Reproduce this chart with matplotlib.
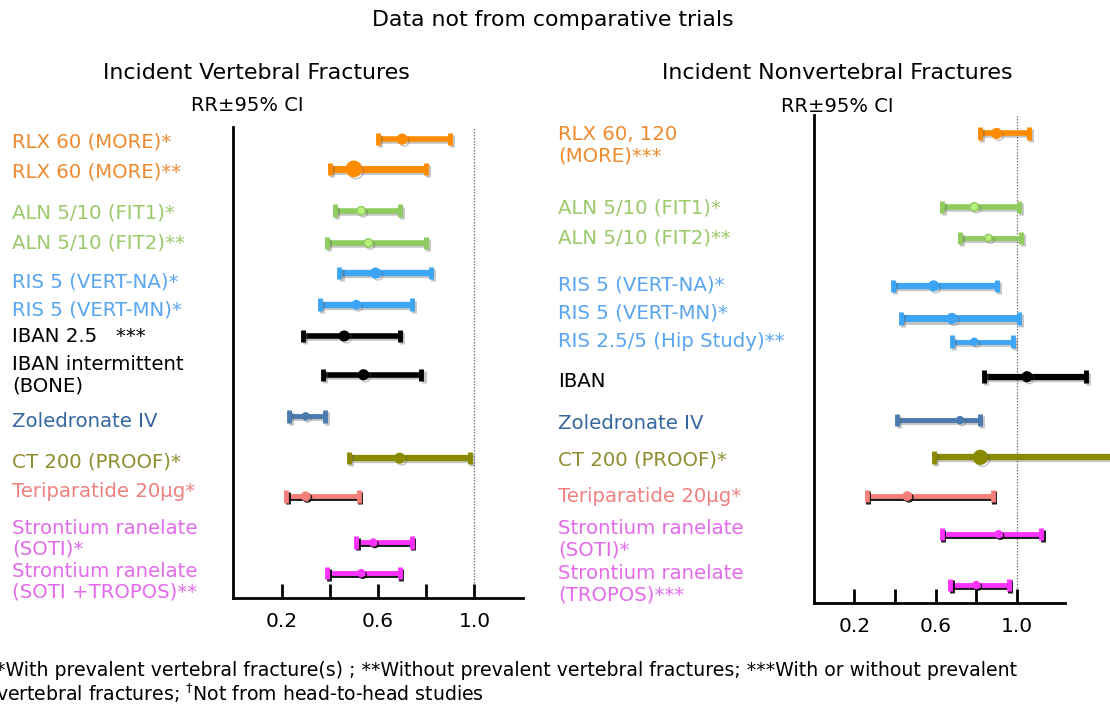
import matplotlib
matplotlib.use("Agg")
from matplotlib import pyplot as plt
import matplotlib.patheffects as pe

# ---- data: relative risk with 95% CI ----
vert_labels = ["RLX 60 (MORE)*", "RLX 60 (MORE)**", "ALN 5/10 (FIT1)*", "ALN 5/10 (FIT2)**",
               "RIS 5 (VERT-NA)*", "RIS 5 (VERT-MN)*", "IBAN 2.5   ***", "IBAN intermittent\n(BONE)",
               "Zoledronate IV", "CT 200 (PROOF)*", "Teriparatide 20µg*",
               "Strontium ranelate\n(SOTI)*", "Strontium ranelate\n(SOTI +TROPOS)**"]
vert_rr = [0.70, 0.50, 0.53, 0.56, 0.59, 0.51, 0.46, 0.54, 0.30, 0.69, 0.30, 0.58, 0.53]
vert_lo = [0.60, 0.40, 0.42, 0.39, 0.44, 0.36, 0.29, 0.37, 0.23, 0.48, 0.22, 0.51, 0.39]
vert_hi = [0.90, 0.80, 0.69, 0.80, 0.82, 0.74, 0.69, 0.78, 0.38, 0.98, 0.52, 0.74, 0.69]

nonvert_labels = ["RLX 60, 120\n(MORE)***", "ALN 5/10 (FIT1)*", "ALN 5/10 (FIT2)**",
                  "RIS 5 (VERT-NA)*", "RIS 5 (VERT-MN)*", "RIS 2.5/5 (Hip Study)**", "IBAN",
                  "Zoledronate IV", "CT 200 (PROOF)*", "Teriparatide 20µg*",
                  "Strontium ranelate\n(SOTI)*", "Strontium ranelate\n(TROPOS)***"]
nonvert_rr = [0.90, 0.79, 0.86, 0.59, 0.68, 0.79, 1.05, 0.72, 0.82, 0.46, 0.91, 0.80]
nonvert_lo = [0.82, 0.63, 0.72, 0.39, 0.43, 0.68, 0.84, 0.41, 0.59, 0.26, 0.63, 0.67]
nonvert_hi = [1.06, 1.01, 1.02, 0.90, 1.01, 0.98, 1.34, 0.82, 1.48, 0.88, 1.12, 0.96]

ticks = [0.2, 0.4, 0.6, 0.8, 1.0]
tick_labels = ["0.2", "", "0.6", "", "1.0"]

# ---- layout / style (row positions in ~31px units from the top of each axis) ----
vert_rows = [0.39, 1.35, 2.70, 3.74, 4.71, 5.73, 6.74, 7.99, 9.33, 10.68, 11.91, 13.40, 14.39]
vert_text_rows = [0.47, 1.44, 2.78, 3.75, 4.99, 5.90, 6.76, 8.00, 9.50, 10.80, 11.76, 13.28, 14.67]
nonvert_rows = [0.59, 2.96, 3.96, 5.51, 6.56, 7.31, 8.44, 9.84, 11.04, 12.29, 13.52, 15.16]
nonvert_text_rows = [0.98, 3.01, 3.98, 5.48, 6.40, 7.31, 8.61, 9.95, 11.13, 12.31, 13.69, 15.14]

ORANGE, GREEN, BLUE, BLACK = "#ff8c00", "#8fcb5e", "#3da5f5", "#000000"
NAVY, OLIVE, CORAL, MAGENTA = "#4a7aae", "#8a8a00", "#f47e78", "#ff33ff"
txt = {ORANGE: "#ee8b30", GREEN: "#9cc96a", BLUE: "#5aa5f0", BLACK: "#000000",
       NAVY: "#3566a0", OLIVE: "#8e8e30", CORAL: "#ee8080", MAGENTA: "#e36beb"}

vert_colors = [ORANGE, ORANGE, GREEN, GREEN, BLUE, BLUE, BLACK, BLACK,
               NAVY, OLIVE, CORAL, MAGENTA, MAGENTA]
vert_lw = [4, 5, 4, 4, 4.5, 4.5, 4, 4, 3.5, 4.5, 3.5, 3.5, 3.5]
vert_ms = [7, 11, 6, 6, 7, 6, 7, 7, 5, 7, 6, 5, 5]
nonvert_colors = [ORANGE, GREEN, GREEN, BLUE, BLUE, BLUE, BLACK,
                  NAVY, OLIVE, CORAL, MAGENTA, MAGENTA]
nonvert_lw = [4, 4, 3.5, 4.5, 5, 3.5, 4.5, 3.5, 4.5, 3.5, 3.5, 3.5]
nonvert_ms = [7, 6, 5, 7, 7, 5, 7, 5, 10, 6, 5, 5]

plt.rcParams['font.family'] = ['DejaVu Sans']

fig = plt.figure(figsize=(11.1, 7.05), dpi=100)


def forest(ax, rr, lo, hi, rows, colors, lws, sizes, xmax, height):
    for i in range(len(rr)):
        c = colors[i]
        dark_shadow = c in (CORAL, MAGENTA)
        shadow = pe.SimpleLineShadow(offset=(1.2, -1.2) if dark_shadow else (1.5, -1.5),
                                     shadow_color="black" if dark_shadow else "0.35",
                                     alpha=0.9 if dark_shadow else 0.35)
        line, caps, bars = ax.errorbar(rr[i], rows[i], xerr=[[rr[i] - lo[i]], [hi[i] - rr[i]]],
                                       fmt="o", color=c, ms=sizes[i], elinewidth=lws[i],
                                       capsize=4.5, capthick=3.5, clip_on=False, zorder=3)
        for a in [line] + list(caps) + list(bars):
            a.set_path_effects([shadow, pe.Normal()])
            a.set_clip_on(False)
        line.set_markerfacecolor("#b8f07a" if c == GREEN else c)
        line.set_markeredgecolor(c)
    ax.axvline(1.0, color="0.45", lw=0.9, ls=(0, (1.2, 1.2)), zorder=1)
    ax.set_xlim(0, xmax)
    ax.set_ylim(height, 0)
    ax.set_xticks(ticks)
    ax.set_xticklabels(tick_labels, fontsize=14.5)
    ax.tick_params(axis="x", direction="in", length=10, width=2, pad=10)
    ax.set_yticks([])
    for s in ["top", "right"]:
        ax.spines[s].set_visible(False)
    for s in ["left", "bottom"]:
        ax.spines[s].set_linewidth(2)


def labels(ax, names, rows, colors, x):
    for name, y, c in zip(names, rows, colors):
        ax.text(x, y, name, transform=ax.get_yaxis_transform(), ha="left", va="center",
                fontsize=14.2, color=txt[c], linespacing=1.15)


ax1 = fig.add_axes([0.2102, 0.1518, 0.2607, 0.668])
forest(ax1, vert_rr, vert_lo, vert_hi, vert_rows, vert_colors, vert_lw, vert_ms, 1.2, 15.19)
labels(ax1, vert_labels, vert_text_rows, vert_colors, -0.765)

ax2 = fig.add_axes([0.7331, 0.1447, 0.2264, 0.692])
forest(ax2, nonvert_rr, nonvert_lo, nonvert_hi, nonvert_rows, nonvert_colors,
       nonvert_lw, nonvert_ms, 1.237, 15.74)
labels(ax2, nonvert_labels, nonvert_text_rows, nonvert_colors, -1.017)

fig.text(0.498, 0.972, "Data not from comparative trials", ha="center", va="center", fontsize=15.8)
fig.text(0.231, 0.897, "Incident Vertebral Fractures", ha="center", va="center", fontsize=15.9)
fig.text(0.223, 0.851, "RR±95% CI", ha="center", va="center", fontsize=14)
fig.text(0.754, 0.897, "Incident Nonvertebral Fractures", ha="center", va="center", fontsize=15.9)
fig.text(0.754, 0.849, "RR±95% CI", ha="center", va="center", fontsize=14)

fig.text(-0.004, 1 - 671 / 705,
         "*With prevalent vertebral fracture(s) ; **Without prevalent vertebral fractures; "
         "***With or without prevalent", ha="left", va="center", fontsize=13.6)
fig.text(-0.004, 1 - 693 / 705,
         "vertebral fractures; $^{\\dagger}$Not from head-to-head studies",
         ha="left", va="center", fontsize=13.6)

fig.savefig("out.png", dpi=100)
